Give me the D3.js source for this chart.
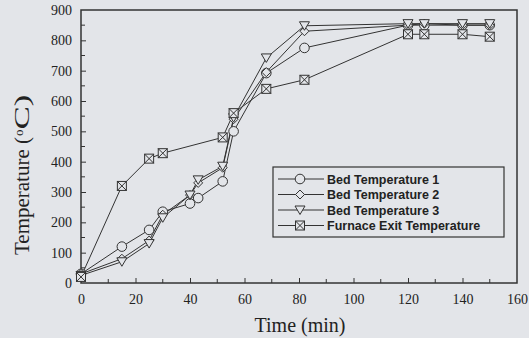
<!DOCTYPE html>
<html><head><meta charset="utf-8">
<script src="https://cdn.jsdelivr.net/npm/d3@7"></script>
<style>html,body{margin:0;padding:0;background:#e3e5e9;}svg{display:block;}</style>
</head><body>
<script>
const seriesNames = ["Bed Temperature 1","Bed Temperature 2","Bed Temperature 3","Furnace Exit Temperature"];
const timeBed = [0,15,25,30,40,43,52,56,68,82,120,126,140,150];
const bed1 = [30,120,175,235,262,280,335,500,692,775,850,850,850,850];
const bed2 = [30,80,140,225,290,330,380,540,695,830,850,855,850,850];
const bed3 = [25,70,130,215,290,340,385,545,742,848,855,855,855,855];
const timeFurnace = [0,15,25,30,52,56,68,82,120,126,140,150];
const furnace = [20,320,410,428,480,560,640,670,820,820,820,812];
const xTicks = [0,20,40,60,80,100,120,140,160];
const yTicks = [0,100,200,300,400,500,600,700,800,900];

const W=529,H=338, L=81,R=517,T=10,B=283;
const bg="#e3e5e9", ink="#333";
const svg=d3.select("body").append("svg").attr("width",W).attr("height",H);
svg.append("rect").attr("width",W).attr("height",H).attr("fill",bg);
const x=d3.scaleLinear().domain([0,160]).range([L,R]);
const y=d3.scaleLinear().domain([0,900]).range([B,T]);

const xMinor=d3.range(10,160,20);
const yMinor=d3.range(50,900,100);
const gx=svg.append("g").attr("transform",`translate(0,${B})`)
  .call(d3.axisBottom(x).tickValues(xTicks).tickSizeInner(-5).tickSizeOuter(0).tickPadding(11).tickFormat(d3.format("d")));
const gy=svg.append("g").attr("transform",`translate(${L},0)`)
  .call(d3.axisLeft(y).tickValues(yTicks).tickSizeInner(-5).tickSizeOuter(0).tickPadding(9).tickFormat(d3.format("d")));
[gx,gy].forEach(g=>{g.select(".domain").remove();
  g.selectAll("line").attr("stroke",ink).attr("stroke-width",1);
  g.selectAll("text").attr("font-family","Liberation Serif").attr("font-size",14).attr("fill","#222");});
gx.selectAll(".tick").filter(d=>d===0||d===160).select("line").remove();
gy.selectAll(".tick").filter(d=>d===0||d===900).select("line").remove();
svg.append("g").selectAll("line").data(xMinor).join("line")
  .attr("x1",d=>x(d)).attr("x2",d=>x(d)).attr("y1",B).attr("y2",B-4).attr("stroke",ink);
svg.append("g").selectAll("line").data(yMinor).join("line")
  .attr("y1",d=>y(d)).attr("y2",d=>y(d)).attr("x1",L).attr("x2",L+4).attr("stroke",ink);
svg.append("rect").attr("x",L).attr("y",T).attr("width",R-L).attr("height",B-T)
  .attr("fill","none").attr("stroke",ink).attr("stroke-width",1.5);

svg.append("text").attr("x",300).attr("y",332).attr("text-anchor","middle")
  .attr("font-family","Liberation Serif").attr("font-size",20).attr("fill","#222").text("Time (min)");
const yt=svg.append("text").attr("transform","translate(29,255) rotate(-90)").attr("text-anchor","start")
  .attr("font-family","Liberation Serif").attr("font-size",20).attr("fill","#222");
yt.append("tspan").attr("textLength",118).attr("lengthAdjust","spacingAndGlyphs").text("Temperature (");
yt.append("tspan").attr("font-size",13).attr("dy",-6).attr("dx",1).text("o");
yt.append("tspan").attr("dy",6).attr("textLength",35).attr("lengthAdjust","spacingAndGlyphs").text("C)");

function marker(g,type){
  if(type==="circle") g.append("circle").attr("r",4.8);
  else if(type==="diamond") g.append("path").attr("d","M0,-4.5L4.5,0L0,4.5L-4.5,0Z");
  else if(type==="tri") g.append("path").attr("d","M-5,-4L5,-4L0,4.5Z");
  else { g.append("rect").attr("x",-4.5).attr("y",-4.5).attr("width",9).attr("height",9);
    g.append("path").attr("class","xmark").attr("d","M-4.5,-4.5L4.5,4.5M4.5,-4.5L-4.5,4.5"); }
  g.selectAll("*").attr("fill",bg).attr("stroke",ink).attr("stroke-width",1);
  g.selectAll(".xmark").attr("fill","none");
}
const series=[
  {name:seriesNames[0],t:timeBed,v:bed1,m:"circle"},
  {name:seriesNames[1],t:timeBed,v:bed2,m:"diamond"},
  {name:seriesNames[2],t:timeBed,v:bed3,m:"tri"},
  {name:seriesNames[3],t:timeFurnace,v:furnace,m:"box"}];
const line=d3.line().x(d=>x(d[0])).y(d=>y(d[1]));
series.forEach(s=>{
  const pts=s.t.map((t,i)=>[t,s.v[i]]);
  svg.append("path").attr("d",line(pts)).attr("fill","none").attr("stroke",ink).attr("stroke-width",1);
});
series.forEach(s=>{
  s.t.forEach((t,i)=>{
    const g=svg.append("g").attr("transform",`translate(${x(t)},${y(s.v[i])})`);
    marker(g,s.m);
  });
});

const lg=svg.append("g");
lg.append("rect").attr("x",273).attr("y",167).attr("width",231).attr("height",70)
  .attr("fill",bg).attr("stroke",ink).attr("stroke-width",1.2);
series.forEach((s,i)=>{
  const yy=179+i*15.5;
  lg.append("line").attr("x1",278).attr("x2",324).attr("y1",yy).attr("y2",yy).attr("stroke",ink);
  marker(lg.append("g").attr("transform",`translate(300,${yy})`),s.m);
  lg.append("text").attr("x",327).attr("y",yy+4.5).attr("font-family","Liberation Sans").attr("font-weight","bold")
    .attr("font-size",12.5).attr("fill","#222").text(s.name);
});
</script>
</body></html>
